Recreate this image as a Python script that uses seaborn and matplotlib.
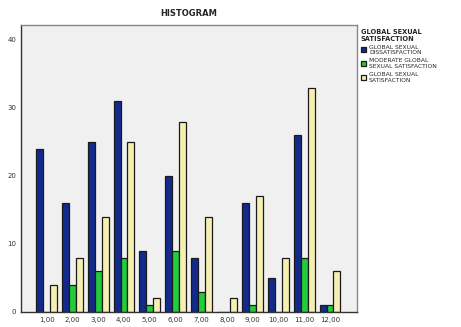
import matplotlib
matplotlib.use("Agg")
import matplotlib.pyplot as plt
import seaborn as sns
import pandas as pd

categories = ["1,00", "2,00", "3,00", "4,00", "5,00", "6,00",
              "7,00", "8,00", "9,00", "10,00", "11,00", "12,00"]
dissatisfaction = [24, 16, 25, 31, 9, 20, 8, 0, 16, 5, 26, 1]
moderate = [0, 4, 6, 8, 1, 9, 3, 0, 1, 0, 8, 1]
satisfaction = [4, 8, 14, 25, 2, 28, 14, 2, 17, 8, 33, 6]
series_names = ["GLOBAL SEXUAL\nDISSATISFACTION",
                "MODERATE GLOBAL\nSEXUAL SATISFACTION",
                "GLOBAL SEXUAL\nSATISFACTION"]
colors = ["#122a8c", "#22cc3a", "#f5f0b2"]

rows = []
for name, vals in zip(series_names, [dissatisfaction, moderate, satisfaction]):
    for c, v in zip(categories, vals):
        rows.append({"cat": c, "series": name, "count": v})
df = pd.DataFrame(rows)

sns.set_style("white")
plt.rcParams['font.family'] = ['DejaVu Sans']

fig = plt.figure(figsize=(4.61, 3.27), dpi=100)
ax = fig.add_axes([21/461, 1 - 312/327, (357-21)/461, (312-25)/327])
ax.set_facecolor("#f0f0f0")

sns.barplot(data=df, x="cat", y="count", hue="series", order=categories,
            hue_order=series_names, palette=colors, width=0.8, saturation=1,
            edgecolor="#1a1a1a", linewidth=0.9, ax=ax)

ax.set_xlim(-1.0, 12.05)
ax.set_ylim(0, 42.2)
ax.set_yticks([0, 10, 20, 30, 40])
ax.set_xlabel("")
ax.set_ylabel("")
ax.tick_params(axis="both", labelsize=5, length=2, width=0.6, pad=1.5,
               direction="out", colors="#333333")
for side in ["left", "bottom"]:
    ax.spines[side].set_color("#333333")
    ax.spines[side].set_linewidth(1.0)
for side in ["top", "right"]:
    ax.spines[side].set_color("#888888")
    ax.spines[side].set_linewidth(1.0)

fig.text(189/461, 1 - 14/327, "HISTOGRAM", ha="center", va="center",
         fontsize=6, fontweight="bold")

leg = ax.legend(title="GLOBAL SEXUAL\nSATISFACTION", loc="upper left",
                bbox_to_anchor=(1.0, 1.0), frameon=False, fontsize=4.3,
                title_fontsize=4.8, handlelength=0.9, handleheight=0.9,
                handletextpad=0.5, borderaxespad=0.2, labelspacing=0.5,
                alignment="left")
leg.get_title().set_fontweight("bold")

fig.savefig("out.png", dpi=100, facecolor="white")
